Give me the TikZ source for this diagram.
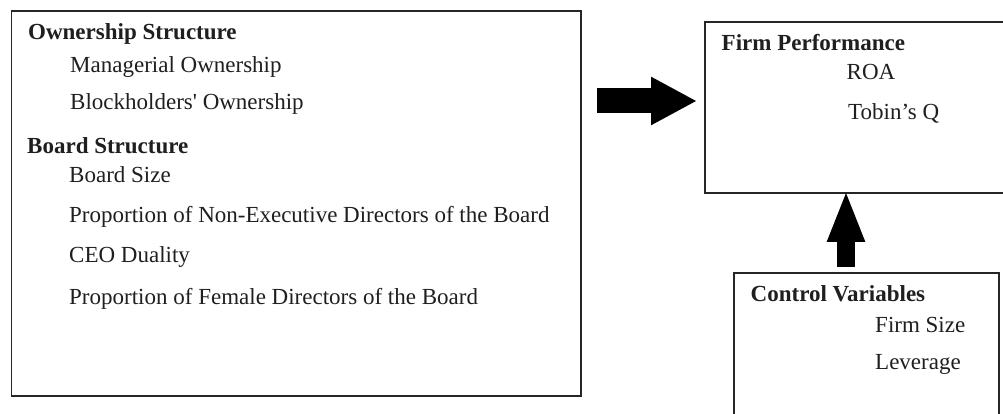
\documentclass[tikz,border=0pt]{standalone}
\usepackage{fontspec}
\setmainfont{Liberation Serif}
\usetikzlibrary{arrows.meta}
\begin{document}
\begin{tikzpicture}[x=1pt,y=1pt,
  frame/.style={draw=black!85, line width=1.8pt, fill=white, anchor=north west, inner sep=0pt},
  txt/.style={anchor=base west, inner sep=0pt, text=black!88, font=\fontsize{23}{27}\selectfont},
  head/.style={txt, font=\fontsize{23}{27}\selectfont\bfseries},
  blockR/.style={draw=black, line width=25pt,
    -{Triangle[width=45pt,length=46pt]}},
  blockU/.style={draw=black, line width=18pt,
    -{Triangle[width=34pt,length=52pt]}}]
\clip (0,0) rectangle (1003,414);
\fill[white] (0,0) rectangle (1003,414);

% boxes
\node[frame, minimum width=569.5pt, minimum height=385pt] (L) at (10.5,404) {};
\node[frame, minimum width=310pt, minimum height=171pt] (F) at (704,393) {};
\node[frame, minimum width=265pt, minimum height=160pt] (C) at (733,142) {};

% independent variables
\node[head] (os) at (28,374) {Ownership Structure};
\node[txt] (mo) at (70,341.5) {Managerial Ownership};
\node[txt] (bo) at (70,304) {Blockholders\textquotesingle\ Ownership};
\node[head] (bs) at (27,260.7) {Board Structure};
\node[txt] (bz) at (69,231.3) {Board Size};
\node[txt] (ne) at (69,191) {Proportion of Non-Executive Directors of the Board};
\node[txt] (cd) at (69,151) {CEO Duality};
\node[txt] (fd) at (69,109) {Proportion of Female Directors of the Board};

% dependent variables
\node[head] (fp) at (721.5,363) {Firm Performance};
\node[txt] (roa) at (846.5,334) {ROA};
\node[txt] (tq) at (848,294) {Tobin's Q};

% control variables
\node[head] (cv) at (750.5,112.3) {Control Variables};
\node[txt] (fs) at (875,81.3) {Firm Size};
\node[txt] (lv) at (875,44) {Leverage};

% connectors
\coordinate (ar) at (650,313);
\coordinate (au) at (846,200);
\draw[blockR, shorten <=15pt, shorten >=7pt] (L.east |- ar) -- (F.west |- ar);
\draw[blockU, shorten <=5pt, shorten >=-4pt] (C.north -| au) -- (F.south -| au);
\end{tikzpicture}
\end{document}
